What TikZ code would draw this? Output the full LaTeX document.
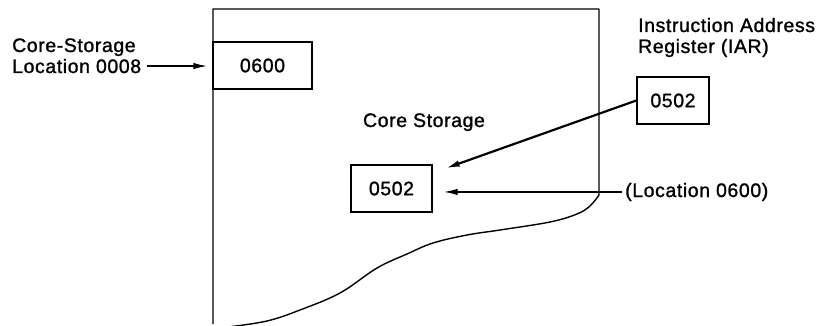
\documentclass[tikz,border=0pt]{standalone}
\usepackage{fontspec}
\setmainfont{Liberation Sans}[LetterSpace=3, FakeBold=1.2]
\usepackage{tikz}
\usetikzlibrary{arrows.meta, calc}

\begin{document}
\begin{tikzpicture}[x=1pt, y=-1pt,
    wordbox/.style={draw, line width=1.4pt, minimum height=47pt, inner sep=0pt, font=\fontsize{19.5}{21}\selectfont},
    lbl/.style={font=\fontsize{19.5}{21}\selectfont, inner sep=0pt},
    arr/.style={-{Latex[length=14pt,width=6.5pt]}, line width=1.5pt}]
    \useasboundingbox (0,0) rectangle (820,326);

    % Core storage outline, torn off at the bottom
    \draw[line width=1.4pt, line join=round] (213,324) -- (213,9) -- (599,9) -- (599,195)
        -- plot[smooth, tension=0.6] coordinates {(599,195) (590,206) (577,214) (550,222) (500,230)
            (467,235) (433,243) (407,254) (377,268) (340,293) (300,310) (267,321) (228,327)};

    % Storage words
    \node[wordbox, minimum width=99pt] (word8) at (262.5,65.5) {0600};
    \node[wordbox, minimum width=81pt] (word600) at (391.5,188.5) {0502};
    \node[lbl, anchor=base] (title) at (424,127) {Core Storage};

    % Location 0008 label
    \node[lbl, anchor=base west] (cslbl) at (12,52) {Core-Storage};
    \node[lbl, anchor=base west] (loc8) at (12,73) {Location 0008};
    \draw[arr, shorten <=6pt, shorten >=5pt] (loc8.east) -- (loc8.east -| word8.west);

    % Instruction address register
    \node[lbl, anchor=base west] (iarlbl) at (638,32) {Instruction Address};
    \node[lbl, anchor=base west] (reglbl) at (638,53) {Register (IAR)};
    \node[wordbox, minimum width=72pt] (iar) at (673,100.5) {0502};
    \draw[arr, line width=2.2pt] (iar.west) -- ([xshift=13pt,yshift=-4pt]word600.north east);

    % Location 0600 label
    \node[lbl, anchor=base west] (loc6) at (625,197) {(Location 0600)};
    \draw[arr, shorten <=3pt, shorten >=11pt] (loc6.west) -- (loc6.west -| word600.east);
\end{tikzpicture}
\end{document}
